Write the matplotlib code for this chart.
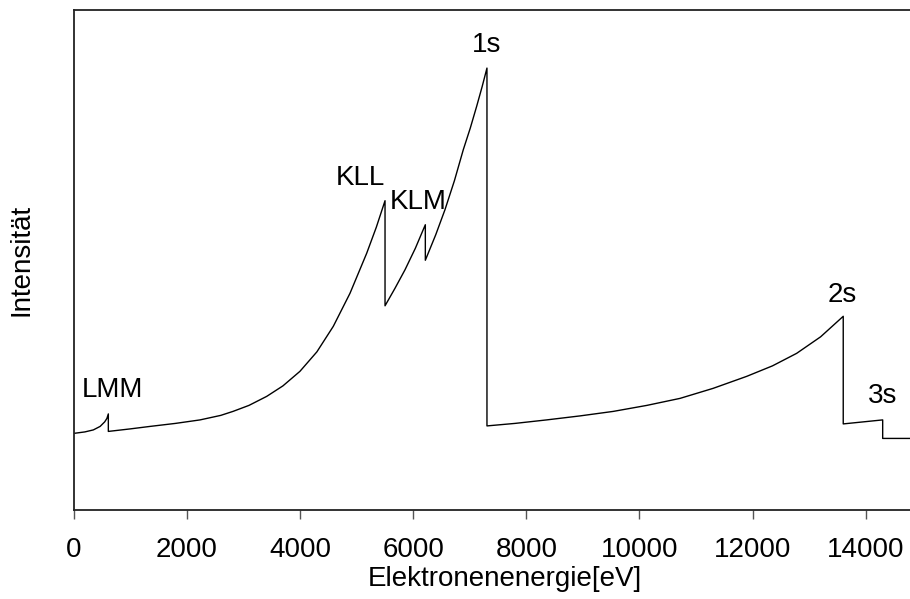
import matplotlib
matplotlib.use("Agg")
import matplotlib.pyplot as plt

plt.rcParams['font.family'] = ['Liberation Sans', 'DejaVu Sans']

# Spectrum (energy in eV, intensity in arbitrary units)
energy = [0, 200, 350, 470, 550, 590, 615,
          615, 1000, 1352, 1800, 2235, 2600, 2818, 3100, 3413, 3700, 4000,
          4300, 4590, 4885, 5180, 5350, 5504,
          5504, 5680, 5857, 6040, 6216,
          6216, 6400, 6563, 6730, 6887, 7010, 7124, 7220, 7305,
          7305, 7800, 8360, 8950, 9537, 10130, 10716, 11300, 11894, 12350,
          12777, 13200, 13600,
          13600, 14297,
          14297, 15000]
intensity = [15.3, 15.6, 16.0, 16.7, 17.6, 18.3, 19.2,
             15.7, 16.2, 16.7, 17.3, 18.0, 18.9, 19.7, 20.9, 22.7, 24.8, 27.7,
             31.6, 36.7, 43.3, 51.3, 56.5, 61.8,
             40.8, 44.3, 48.0, 52.3, 57.0,
             49.9, 55.0, 60.0, 65.8, 72.0, 76.3, 80.7, 84.6, 88.3,
             16.8, 17.3, 18.0, 18.8, 19.7, 20.9, 22.3, 24.3, 26.7, 28.8,
             31.3, 34.6, 38.7,
             17.2, 18.0,
             14.3, 14.3]

peak_labels = ["LMM", "KLL", "KLM", "1s", "2s", "3s"]
label_x = [680, 5071, 6092, 7306, 13587, 14293]
label_y = [24.0, 66.3, 61.6, 92.9, 43.0, 22.8]

xticks = [0, 2000, 4000, 6000, 8000, 10000, 12000, 14000]

fs = 20

fig = plt.figure(figsize=(9.10, 5.99), dpi=100)
ax = fig.add_axes([0.0808, 0.1486, 0.9329, 0.8355])

ax.plot(energy, intensity, color='black', lw=1.0)

for t, x, y in zip(peak_labels, label_x, label_y):
    ax.text(x, y, t, ha='center', va='center', fontsize=fs, color='black')

ax.set_xlim(0, 15000)
ax.set_ylim(0, 100)
ax.set_xticks(xticks)
ax.set_xticklabels([str(v) for v in xticks])
ax.set_yticks([])
ax.tick_params(axis='x', direction='out', length=6.5, width=1.0,
               color='#555555', labelsize=fs, pad=13)
for s in ax.spines.values():
    s.set_linewidth(1.3)
    s.set_color('#222222')

ax.set_xlabel("Elektronenenergie[eV]", fontsize=fs, labelpad=7)
ax.xaxis.set_label_coords(0.508, -0.112)
ax.set_ylabel("Intensität", fontsize=fs, labelpad=28)

fig.savefig("out.png", dpi=100)
